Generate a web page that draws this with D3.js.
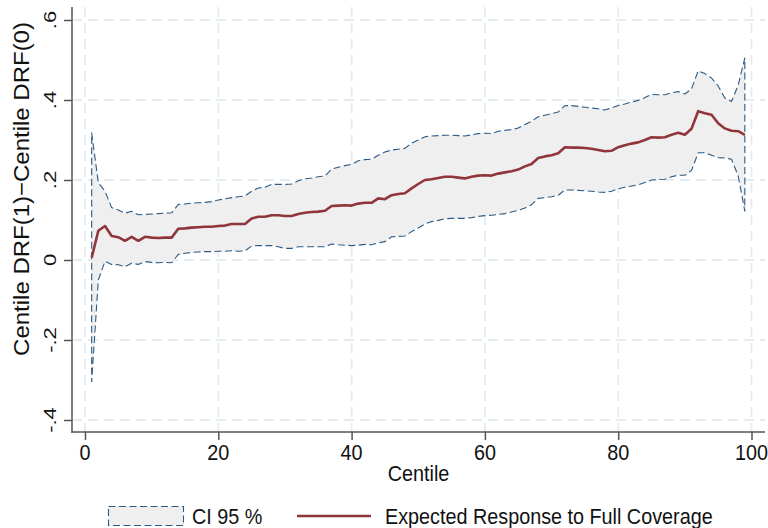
<!DOCTYPE html>
<html>
<head>
<meta charset="utf-8">
<script src="https://cdn.jsdelivr.net/npm/d3@7"></script>
<style>
  html, body { margin: 0; padding: 0; background: #fff; }
  svg { display: block; }
  text { font-family: "Liberation Sans", Arial, Helvetica, sans-serif; fill: #111; }
</style>
</head>
<body>
<svg id="chart" width="768" height="528"></svg>
<script>
// Centiles 1..99
const centiles = d3.range(1, 100);

// Expected response to full coverage (point estimate)
const estimate = [
  0.006, 0.073, 0.085, 0.060, 0.057, 0.048, 0.058, 0.048, 0.058, 0.056,
  0.055, 0.056, 0.056, 0.078, 0.079, 0.081, 0.082, 0.083, 0.083, 0.085,
  0.086, 0.090, 0.090, 0.090, 0.104, 0.108, 0.108, 0.112, 0.112, 0.110,
  0.110, 0.115, 0.118, 0.120, 0.121, 0.123, 0.135, 0.136, 0.137, 0.136,
  0.141, 0.143, 0.143, 0.154, 0.152, 0.162, 0.165, 0.167, 0.179, 0.190,
  0.200, 0.202, 0.205, 0.208, 0.208, 0.206, 0.204, 0.208, 0.211, 0.212,
  0.211, 0.216, 0.219, 0.222, 0.226, 0.234, 0.240, 0.255, 0.259, 0.262,
  0.267, 0.282, 0.281, 0.281, 0.280, 0.278, 0.275, 0.272, 0.273, 0.282,
  0.287, 0.291, 0.294, 0.300, 0.307, 0.306, 0.307, 0.313, 0.318, 0.313,
  0.328, 0.372, 0.367, 0.363, 0.342, 0.329, 0.323, 0.322, 0.313
];

// Upper bound of the 95% confidence interval
const ciUpper = [
  0.318, 0.193, 0.172, 0.131, 0.125, 0.117, 0.122, 0.113, 0.114, 0.115,
  0.116, 0.117, 0.118, 0.139, 0.140, 0.142, 0.143, 0.144, 0.146, 0.150,
  0.153, 0.156, 0.158, 0.160, 0.172, 0.180, 0.182, 0.189, 0.189, 0.189,
  0.190, 0.198, 0.203, 0.205, 0.208, 0.210, 0.227, 0.232, 0.236, 0.239,
  0.248, 0.251, 0.252, 0.262, 0.270, 0.275, 0.277, 0.279, 0.292, 0.300,
  0.308, 0.310, 0.311, 0.312, 0.312, 0.311, 0.310, 0.313, 0.316, 0.317,
  0.316, 0.322, 0.324, 0.326, 0.330, 0.339, 0.347, 0.358, 0.362, 0.366,
  0.370, 0.386, 0.386, 0.384, 0.382, 0.380, 0.378, 0.375, 0.380, 0.386,
  0.390, 0.395, 0.399, 0.406, 0.414, 0.413, 0.413, 0.418, 0.421, 0.415,
  0.428, 0.473, 0.466, 0.455, 0.435, 0.405, 0.396, 0.437, 0.505
];

// Lower bound of the 95% confidence interval
const ciLower = [
  -0.304, -0.050, -0.003, -0.011, -0.012, -0.017, -0.008, -0.011, -0.004, -0.006,
  -0.007, -0.006, -0.007, 0.014, 0.017, 0.019, 0.020, 0.021, 0.021, 0.022,
  0.022, 0.023, 0.022, 0.023, 0.035, 0.036, 0.036, 0.036, 0.033, 0.029,
  0.029, 0.033, 0.033, 0.033, 0.033, 0.033, 0.040, 0.038, 0.037, 0.036,
  0.037, 0.039, 0.038, 0.043, 0.046, 0.058, 0.059, 0.060, 0.071, 0.080,
  0.090, 0.096, 0.099, 0.103, 0.104, 0.104, 0.104, 0.106, 0.109, 0.111,
  0.112, 0.114, 0.116, 0.120, 0.124, 0.130, 0.138, 0.154, 0.156, 0.158,
  0.162, 0.175, 0.175, 0.174, 0.173, 0.172, 0.170, 0.169, 0.172, 0.178,
  0.182, 0.185, 0.188, 0.194, 0.200, 0.201, 0.202, 0.208, 0.212, 0.212,
  0.224, 0.268, 0.268, 0.262, 0.256, 0.255, 0.252, 0.210, 0.122
];

const xTicks = [0, 20, 40, 60, 80, 100];
const yTicks = [-0.4, -0.2, 0, 0.2, 0.4, 0.6];
const yTickLabels = ["-.4", "-.2", "0", ".2", ".4", ".6"];
const legendLabels = ["CI 95 %", "Expected Response to Full Coverage"];

const colors = {
  band: "#efefef",
  bandLine: "#2b5b86",
  estimate: "#90353b",
  grid: "#e3ecf1",
  axis: "#555555"
};

const svg = d3.select("#chart");
const plot = { left: 72, right: 765, top: 7, bottom: 432 };

const x = d3.scaleLinear().domain([0, 100]).range([85, 751.5]);
const y = d3.scaleLinear().domain([-0.4, 0.6]).range([420, 20]);

const rows = centiles.map((c, i) => ({ c, est: estimate[i], lo: ciLower[i], hi: ciUpper[i] }));

// Grid lines
const grid = svg.append("g").attr("stroke", colors.grid).attr("stroke-width", 1.8)
  .attr("stroke-dasharray", "10,6").attr("fill", "none");
grid.selectAll("line.h").data(yTicks).join("line").attr("class", "h")
  .attr("x1", plot.left).attr("x2", plot.right)
  .attr("y1", d => y(d)).attr("y2", d => y(d));
grid.selectAll("line.v").data(xTicks).join("line").attr("class", "v")
  .attr("x1", d => x(d)).attr("x2", d => x(d))
  .attr("y1", plot.top).attr("y2", plot.bottom);

// Confidence band
const area = d3.area().x(d => x(d.c)).y0(d => y(d.lo)).y1(d => y(d.hi));
svg.append("path").datum(rows)
  .attr("d", area(rows) + "Z")
  .attr("fill", colors.band)
  .attr("stroke", colors.bandLine)
  .attr("stroke-width", 1.1)
  .attr("stroke-dasharray", "7,3.5")
  .attr("stroke-linejoin", "round");

// Point estimate
const line = d3.line().x(d => x(d.c)).y(d => y(d.est));
svg.append("path").datum(rows)
  .attr("d", line)
  .attr("fill", "none")
  .attr("stroke", colors.estimate)
  .attr("stroke-width", 2.6)
  .attr("stroke-linejoin", "round");

// Axes
const yAxis = d3.axisLeft(y).tickValues(yTicks).tickSize(8).tickFormat("");
const gy = svg.append("g").attr("transform", `translate(${plot.left},0)`).call(yAxis);
gy.select(".domain").remove();
gy.selectAll(".tick line").attr("stroke", colors.axis).attr("stroke-width", 1.5);

const xAxis = d3.axisBottom(x).tickValues(xTicks).tickSize(8).tickFormat("");
const gx = svg.append("g").attr("transform", `translate(0,${plot.bottom})`).call(xAxis);
gx.select(".domain").remove();
gx.selectAll(".tick line").attr("stroke", colors.axis).attr("stroke-width", 1.5);

svg.append("line").attr("x1", plot.left).attr("x2", plot.left)
  .attr("y1", plot.top).attr("y2", plot.bottom + 0.75)
  .attr("stroke", colors.axis).attr("stroke-width", 1.5);
svg.append("line").attr("x1", plot.left - 0.75).attr("x2", plot.right)
  .attr("y1", plot.bottom).attr("y2", plot.bottom)
  .attr("stroke", colors.axis).attr("stroke-width", 1.5);

// Tick labels
svg.append("g").selectAll("text").data(yTicks).join("text")
  .attr("transform", d => `translate(56,${y(d)}) scale(0.75,1) rotate(-90)`)
  .attr("text-anchor", "middle")
  .attr("font-size", 22)
  .text((d, i) => yTickLabels[i]);

svg.append("g").selectAll("text").data(xTicks).join("text")
  .attr("transform", d => `translate(${x(d)},460) scale(0.9,1)`)
  .attr("text-anchor", "middle")
  .attr("font-size", 22)
  .text(d => d);

// Axis titles
svg.append("text")
  .attr("transform", "translate(29,189) scale(0.92,1) rotate(-90)")
  .attr("text-anchor", "middle")
  .attr("font-size", 24)
  .text("Centile DRF(1)\u2212Centile DRF(0)");

svg.append("text")
  .attr("transform", `translate(${(plot.left + plot.right) / 2},481) scale(0.9,1)`)
  .attr("text-anchor", "middle")
  .attr("font-size", 22)
  .text("Centile");

// Legend
const lg = svg.append("g");
lg.append("rect").attr("x", 108.5).attr("y", 506.5).attr("width", 75).attr("height", 19)
  .attr("fill", colors.band).attr("stroke", colors.bandLine).attr("stroke-width", 1.1)
  .attr("stroke-dasharray", "7,3.5");
lg.append("text").attr("transform", "translate(192,524) scale(0.9,1)")
  .attr("font-size", 22).text(legendLabels[0]);
lg.append("line").attr("x1", 297).attr("x2", 371).attr("y1", 516).attr("y2", 516)
  .attr("stroke", colors.estimate).attr("stroke-width", 2.6);
lg.append("text").attr("transform", "translate(385,524) scale(0.9,1)")
  .attr("font-size", 22).text(legendLabels[1]);
</script>
</body>
</html>
